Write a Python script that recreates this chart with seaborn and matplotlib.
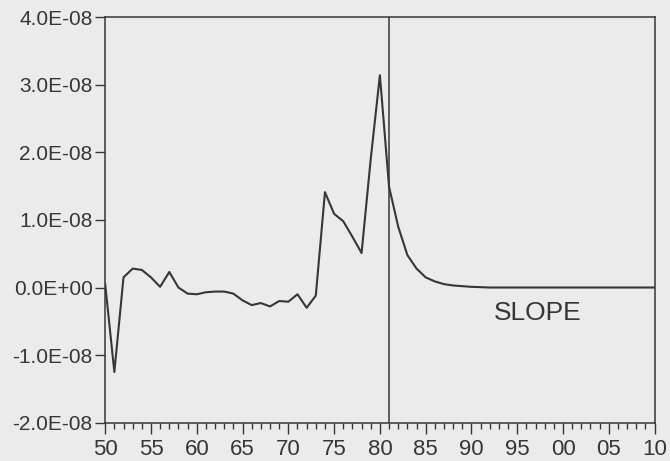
import numpy as np
import pandas as pd
import matplotlib
matplotlib.use("Agg")
import matplotlib.pyplot as plt
from matplotlib.ticker import MultipleLocator, FixedLocator
import seaborn as sns

# ---- data (in units of 1E-08) ----
years = list(range(1950, 2011))
slope_e8 = [
    0.05, -1.25, 0.15, 0.28, 0.26, 0.15, 0.01, 0.23, 0.00, -0.09,   # 1950-59
    -0.10, -0.07, -0.06, -0.06, -0.09, -0.19, -0.26, -0.23, -0.28, -0.20,  # 1960-69
    -0.21, -0.10, -0.30, -0.12, 1.41, 1.09, 0.98, 0.75, 0.51, 1.90,  # 1970-79
    3.14, 1.49, 0.90, 0.48, 0.28, 0.15, 0.09, 0.05, 0.03, 0.02,      # 1980-89
    0.01, 0.005, 0.0, 0.0, 0.0, 0.0, 0.0, 0.0, 0.0, 0.0,             # 1990-99
    0.0, 0.0, 0.0, 0.0, 0.0, 0.0, 0.0, 0.0, 0.0, 0.0, 0.0,           # 2000-10
]
break_year = 1981
series_label = "SLOPE"
ytick_vals = [-2e-8, -1e-8, 0.0, 1e-8, 2e-8, 3e-8, 4e-8]
ytick_labels = ["-2.0E-08", "-1.0E-08", "0.0E+00", "1.0E-08",
                "2.0E-08", "3.0E-08", "4.0E-08"]
xtick_years = list(range(1950, 2011, 5))
xtick_labels = [f"{y % 100:02d}" for y in xtick_years]

df = pd.DataFrame({"year": years, "slope": np.array(slope_e8) * 1e-8})

sns.set_style("white")
plt.rcParams["font.family"] = ["Liberation Sans", "DejaVu Sans"]

ink = "#363636"
paper = "#ebebeb"

fig = plt.figure(figsize=(6.7, 4.61), dpi=100, facecolor=paper)
ax = fig.add_axes([0.157, 0.083, 0.820, 0.880])
ax.set_facecolor(paper)

sns.lineplot(data=df, x="year", y="slope", ax=ax, color=ink, linewidth=1.5)
ax.axvline(break_year, color=ink, linewidth=1.1)

ax.set_xlim(1950, 2010)
ax.set_ylim(-2e-8, 4e-8)
ax.yaxis.set_major_locator(FixedLocator(ytick_vals))
ax.set_yticklabels(ytick_labels)
ax.xaxis.set_major_locator(FixedLocator(xtick_years))
ax.set_xticklabels(xtick_labels)
ax.xaxis.set_minor_locator(MultipleLocator(1))

ax.tick_params(bottom=True, left=True, which="both")
ax.tick_params(axis="y", which="major", direction="out", length=7,
               width=1.0, color=ink, labelcolor=ink, labelsize=15, pad=2)
ax.tick_params(axis="x", which="major", direction="out", length=8,
               width=1.0, color=ink, labelcolor=ink, labelsize=16, pad=4)
ax.tick_params(axis="x", which="minor", direction="out", length=4,
               width=1.0, color=ink)
ax.set_xlabel("")
ax.set_ylabel("")
for s in ax.spines.values():
    s.set_color(ink)
    s.set_linewidth(1.1)

ax.text(1997.2, -0.37e-8, series_label, ha="center", va="center",
        fontsize=19, color=ink)

fig.savefig("out.png", dpi=100, facecolor=paper)
